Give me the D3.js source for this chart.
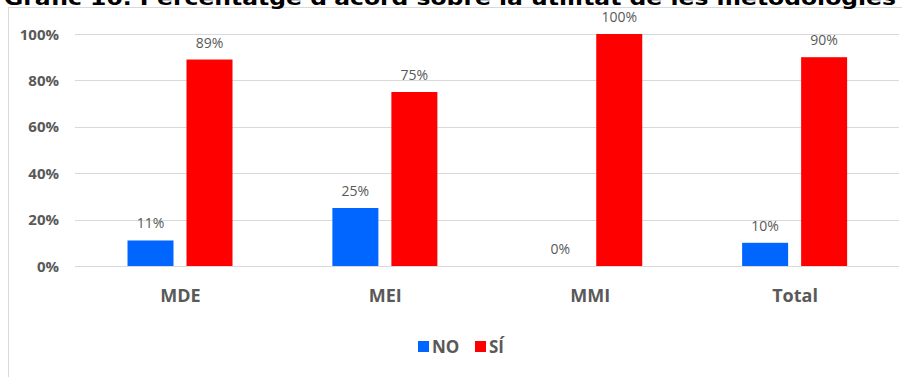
<!DOCTYPE html>
<html>
<head>
<meta charset="utf-8">
<script src="https://cdn.jsdelivr.net/npm/d3@7"></script>
<style>
  body { margin: 0; background: #fff; }
  svg { display: block; }
</style>
</head>
<body>
<div id="chart-container"></div>
<script>
// data
const categories = ["MDE", "MEI", "MMI", "Total"];
const seriesNames = ["NO", "SÍ"];
const valuesNO = [0.11, 0.25, 0.00, 0.10];
const valuesSI = [0.89, 0.75, 1.00, 0.90];
const yTicks = [0, 0.2, 0.4, 0.6, 0.8, 1.0];
const colors = ["#0066ff", "#ff0000"];

const svgWidth = 902;
const svgHeight = 377;

const svg = d3.select("#chart-container")
    .append("svg")
    .attr("width", svgWidth)
    .attr("height", svgHeight);

// chart area border (excel style frame)
svg.append("rect")
    .attr("x", 8.5)
    .attr("y", 7.5)
    .attr("width", 900)
    .attr("height", 380)
    .attr("fill", "white")
    .attr("stroke", "#d9d9d9");

// title, cut off at the top like in the source image
svg.append("text")
    .text("Gràfic 10. Percentatge d'acord sobre la utilitat de les metodologies")
    .attr("x", 4)
    .attr("y", 5)
    .attr("textLength", 892)
    .attr("lengthAdjust", "spacingAndGlyphs")
    .style("font-family", "DejaVu Sans")
    .style("font-weight", "bold")
    .style("font-size", "20px")
    .attr("fill", "#000");

const x = d3.scaleBand()
    .domain(categories)
    .range([77.5, 897])
    .padding(0);

// inner band for the two series inside each category
const xInner = d3.scaleBand()
    .domain(seriesNames)
    .range([50, 155])
    .paddingInner(13 / 59)
    .paddingOuter(0);

const y = d3.scaleLinear()
    .domain([0, 1])
    .range([266, 34]);

// gridlines
svg.append("g")
    .selectAll("line")
    .data(yTicks)
    .join("line")
    .attr("x1", 75)
    .attr("x2", 899)
    .attr("y1", d => Math.round(y(d)) + 0.5)
    .attr("y2", d => Math.round(y(d)) + 0.5)
    .attr("stroke", "#d9d9d9")
    .attr("stroke-width", 1);

// y axis labels
svg.append("g")
    .selectAll("text")
    .data(yTicks)
    .join("text")
    .text(d => d3.format(".0%")(d))
    .attr("x", 59)
    .attr("y", d => y(d) + 5.5)
    .attr("text-anchor", "end")
    .style("font-family", "Open Sans")
    .style("font-weight", "bold")
    .style("font-size", "15px")
    .attr("fill", "#595959");

// table for bars built from the arrays
const rows = categories.map((c, i) => ({
    cat: c,
    vals: [
        { key: "NO", value: valuesNO[i] },
        { key: "SÍ", value: valuesSI[i] }
    ]
}));

const group = svg.append("g")
    .selectAll("g")
    .data(rows)
    .join("g")
    .attr("transform", d => `translate(${x(d.cat)},0)`);

group.selectAll("rect")
    .data(d => d.vals)
    .join("rect")
    .attr("x", d => xInner(d.key))
    .attr("y", d => y(d.value))
    .attr("width", xInner.bandwidth())
    .attr("height", d => y(0) - y(d.value))
    .attr("fill", (d, i) => colors[i]);

// data labels above bars
group.selectAll("text")
    .data(d => d.vals)
    .join("text")
    .text(d => d3.format(".0%")(d.value))
    .attr("x", d => xInner(d.key) + xInner.bandwidth() / 2)
    .attr("y", d => y(d.value) - 12)
    .attr("text-anchor", "middle")
    .style("font-family", "Open Sans")
    .style("font-size", "14px")
    .attr("fill", "#595959");

// category labels
svg.append("g")
    .selectAll("text")
    .data(categories)
    .join("text")
    .text(d => d)
    .attr("x", d => x(d) + x.bandwidth() / 2 + 0.5)
    .attr("y", 302)
    .attr("text-anchor", "middle")
    .style("font-family", "Open Sans")
    .style("font-weight", "bold")
    .style("font-size", "18px")
    .attr("fill", "#595959");

// legend
const legendX = [418, 475];
const legend = svg.append("g")
    .selectAll("g")
    .data(seriesNames)
    .join("g")
    .attr("transform", (d, i) => `translate(${legendX[i]},341)`);

legend.append("rect")
    .attr("width", 11)
    .attr("height", 11)
    .attr("fill", (d, i) => colors[i]);

legend.append("text")
    .text(d => d)
    .attr("x", 14)
    .attr("y", 11.5)
    .style("font-family", "Open Sans")
    .style("font-weight", "bold")
    .style("font-size", "17px")
    .attr("fill", "#595959");
</script>
</body>
</html>
